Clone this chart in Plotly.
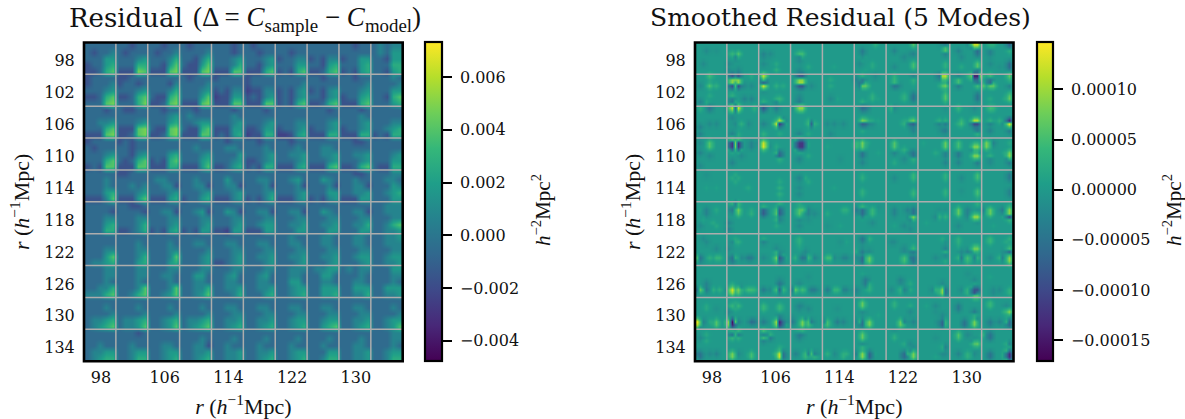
import numpy as np
import plotly.graph_objects as go

W, H = 1185, 419

# Block centres and tick labels, h^-1 Mpc
r_blocks = [98, 102, 106, 110, 114, 118, 122, 126, 130, 134]
x_tick_vals = [98, 106, 114, 122, 130]
y_tick_vals = r_blocks

# Residual panel: 5x5 estimated level cells in each of the 10x10 blocks
res_levels = [-0.0032, -0.0025, -0.0017, -0.0006, 0.0007, 0.0017, 0.0027, 0.0040, 0.0048, 0.0054]
res_blocks = [
 ["33333/32334/33355/23356/22367","33233/32333/33345/33366/22287","33233/32334/33346/33257/22278","32333/33334/33246/32257/22278","33323/33323/33345/33346/22277","32333/33233/33345/33245/22267","33333/33233/23344/33355/23267","33333/33333/23244/33256/22367","33233/33333/23355/33356/23256","34344/34355/33255/33366/33256"],
 ["23333/23334/33345/22367/33378","22333/23323/33345/22367/33368","33333/33324/33346/32267/22378","32333/33334/33345/33357/22278","23333/33333/23244/12255/22277","23333/23333/12244/23245/22277","33333/33334/23245/23245/23267","33233/33333/23245/33245/22367","33233/33334/33345/23356/22267","33343/33334/33355/33267/33356"],
 ["33323/33333/33445/33367/22278","32233/33333/33345/22278/22378","33233/33345/33356/32278/22378","33233/34333/33455/32267/22277","33323/33343/33345/22255/23256","33323/33333/33345/22355/12266","33333/33333/33344/23345/11256","33323/33333/33345/23345/22266","33323/33343/33345/23345/22266","33333/33333/33344/33456/23266"],
 ["23333/32333/33345/33367/23277","23233/33233/33245/32367/22277","33333/33333/33356/23267/22266","33333/33433/33345/33356/22257","33233/33443/33335/33345/22356","33233/33343/33345/22345/23266","33233/33343/33445/33345/22256","33333/33443/33445/33345/22267","33223/33333/33445/33345/22367","33333/33333/33345/33355/32266"],
 ["33333/33343/33343/33356/22247","22333/33333/33434/33345/22257","33333/34433/33442/33345/22256","33333/33433/33442/33345/23356","33333/33533/33442/33345/22245","33333/33443/33342/33345/23246","33333/33453/33342/33345/22245","33333/33543/33342/33355/23245","33223/33433/33442/33445/22255","33344/33443/33354/33456/33355"],
 ["33333/33332/33344/33356/33366","33223/33332/33344/33346/22346","33333/33442/33344/33345/23256","33333/33452/33344/33345/23255","33333/33542/33344/33345/22155","33333/33442/33344/33455/22255","33333/33442/33344/33445/33355","33333/33543/33344/33445/33355","33333/33442/33344/33446/33355","33444/33444/33344/33467/33445"],
 ["33333/33333/33344/33357/34456","33333/33343/33344/33346/33356","33333/33343/33344/33347/33356","33333/33443/33334/33345/33345","33333/33443/33344/33345/22345","33333/33443/33344/33445/33345","33433/33443/33344/33445/33345","33443/33443/33344/33445/33345","33443/33443/33344/33455/33345","33445/33444/33344/33455/33445"],
 ["33344/33344/33343/33446/44467","33344/33344/33343/33347/33467","33344/33443/33343/33347/33457","33344/33553/33443/33446/33457","33344/33453/33443/33445/33346","33344/33453/33443/33445/33356","33444/33443/33553/33455/33456","34455/33553/33443/33555/33556","34344/33343/33443/33555/33446","33355/33344/33343/33555/33445"],
 ["33333/33343/33334/34456/34567","33333/33343/33334/34456/34457","33333/33343/33334/33456/33457","33333/33343/33334/34456/34567","33333/33443/33344/33445/33456","33333/33443/33344/33445/33456","33333/33443/33344/33455/33456","33333/33443/33344/33455/33567","33333/33443/33344/33445/33456","33333/33343/33334/33455/33457"],
 ["33333/33333/33433/34455/34566","33323/33333/33433/33455/33466","33333/33333/33443/33455/33456","33333/33343/33442/33445/33456","33333/33343/33433/33445/33445","33333/33343/33433/33445/33456","33333/33343/33433/33455/33456","33333/33343/33433/33355/33466","33333/33343/33443/33445/33445","33344/33344/33343/33455/33466"],
]

# Smoothed panel: notable cells (row, col, value in 1e-5) in a 10x10 grid per block; the rest is near zero
smooth_cells = {
 (0,0):[(2,3,-2),(2,6,-1),(6,2,-2)],
 (0,1):[(3,1,4),(3,3,6),(4,2,-2),(6,0,-2),(8,0,-2),(8,3,-2)],
 (0,2):[(3,1,-3),(3,3,-2),(4,1,-2),(6,5,2),(8,5,3),(6,1,-2)],
 (0,3):[(3,2,5),(3,3,5),(4,2,-2),(7,5,2),(5,2,-2),(8,2,-2)],
 (0,4):[(7,3,1)],
 (0,5):[(0,6,3),(2,2,-4),(3,2,-3),(4,2,1),(6,5,2),(7,5,2),(6,1,-2),(8,3,1)],
 (0,6):[(0,8,6),(6,8,5),(7,8,5),(3,8,-3),(2,2,-3),(7,2,-2),(3,7,-2),(4,5,-2)],
 (0,7):[(0,7,-2),(0,8,-3),(1,8,5),(2,8,6),(3,8,-3),(6,8,3),(7,8,3),(9,8,2)],
 (0,8):[(0,7,12),(0,8,12),(0,6,-4),(1,8,-2),(2,8,-6),(3,8,-5),(6,8,6),(7,8,6),(8,8,-3),(2,2,-3),(4,3,-2),(7,3,2)],
 (0,9):[(0,8,-7),(0,2,3),(0,3,3),(2,2,-3),(2,8,3),(3,2,-3),(6,8,-6),(7,8,-6),(8,8,-3),(6,2,-2),(7,5,-1)],
 (1,0):[(0,4,5),(0,5,2),(3,4,6),(3,6,3),(3,1,-2),(8,1,-3),(8,3,2),(6,4,2)],
 (1,1):[(0,1,-10),(0,3,-10),(1,1,9),(1,2,8),(1,3,9),(2,1,9),(2,2,1),(2,3,9),(3,1,-10),(3,2,5),(3,3,-10),(0,2,2),(0,7,2),(3,7,-2),(6,1,3),(7,1,-3),(7,5,-3),(7,7,-3),(3,5,-2),(8,1,-4),(8,2,2)],
 (1,2):[(4,1,-3),(1,1,-4),(2,1,-8),(0,1,12),(3,1,13),(3,5,3),(3,7,2),(7,5,3),(7,6,4),(8,1,3),(8,5,-2)],
 (1,3):[(0,2,-9),(0,3,-9),(1,2,9),(2,2,10),(1,3,9),(2,3,10),(3,2,-9),(3,3,-9),(3,6,-2),(7,2,-3),(8,2,-4),(6,2,-2)],
 (1,4):[(1,2,2),(3,2,2),(7,2,-2),(7,4,1)],
 (1,5):[(0,2,3),(1,2,-4),(1,0,-3),(2,1,-4),(2,2,-3),(3,2,7),(3,3,7),(3,1,-3),(0,6,-2),(8,2,3),(6,5,3),(7,5,3),(7,7,1)],
 (1,6):[(0,2,3),(1,2,4),(2,2,4),(3,2,-5),(3,3,-4),(1,8,3),(2,8,2),(0,8,-3),(6,5,3),(7,5,3),(6,8,-5),(7,8,-5)],
 (1,7):[(0,7,11),(0,8,12),(0,6,-5),(1,8,-3),(2,8,-3),(3,8,8),(3,7,6),(5,8,3),(6,8,6),(7,8,6),(8,8,3),(0,9,-2)],
 (1,8):[(0,7,-15),(0,8,-15),(0,6,7),(0,9,8),(1,8,3),(2,8,-4),(3,8,5),(3,2,-4),(1,2,5),(2,2,5),(6,8,-5),(7,8,-5),(8,8,-2),(0,2,-3)],
 (1,9):[(0,2,5),(1,2,-5),(2,2,-6),(3,0,6),(3,2,7),(3,3,7),(0,8,7),(0,9,-1),(1,8,3),(6,8,6),(7,8,7),(7,7,3),(3,8,-3),(7,2,2)],
 (2,0):[(0,4,-5),(0,1,3),(6,1,-3),(5,4,-2),(5,6,-2),(8,1,-3)],
 (2,1):[(0,1,12),(0,2,-6),(0,3,13),(0,0,-3),(0,8,3),(5,2,-2),(5,4,3),(5,6,-2),(8,1,-3),(8,3,2),(3,1,-2)],
 (2,2):[(0,1,-9),(0,5,-4),(4,5,4),(4,6,12),(5,5,12),(5,6,-13),(5,7,3),(4,7,-4),(8,1,3),(8,6,2),(5,1,-3)],
 (2,3):[(0,2,10),(0,3,10),(0,1,-3),(5,5,4),(5,6,-7),(5,7,3),(4,5,3),(8,2,-3),(8,5,2)],
 (2,4):[(5,1,-2),(5,3,-2),(5,6,-2),(8,2,-2)],
 (2,5):[(0,2,-6),(0,3,-5),(4,2,9),(4,3,7),(5,2,-8),(5,3,-7),(4,5,2),(5,5,-2),(7,2,2),(4,7,1)],
 (2,6):[(0,1,3),(0,2,-2),(4,8,8),(5,8,-8),(4,7,6),(5,7,-6),(5,5,3),(4,5,2),(7,8,-3),(5,6,-2)],
 (2,7):[(4,8,3),(5,8,-4),(4,6,3),(5,6,-3),(7,7,-3),(7,8,-4),(0,8,-1)],
 (2,8):[(4,7,12),(4,8,12),(5,7,-11),(5,8,-11),(0,2,4),(0,7,-2),(4,3,4),(5,3,5),(5,2,3),(7,8,-4),(8,8,3)],
 (2,9):[(0,2,5),(0,3,4),(4,8,-14),(4,9,-5),(5,8,14),(5,9,4),(5,7,-3),(4,2,3),(5,2,-3),(7,2,-3),(7,8,-4),(4,5,3)],
 (3,0):[(0,4,2),(1,4,6),(2,4,6),(1,1,-2),(4,1,-3),(5,4,-2),(8,1,-2)],
 (3,1):[(0,1,5),(0,3,5),(1,1,-12),(1,2,8),(1,3,-12),(2,1,-12),(2,2,8),(2,3,-12),(3,1,4),(3,3,4),(1,7,-3),(2,7,-3),(7,1,-3),(5,4,-2)],
 (3,2):[(1,1,12),(2,1,13),(0,1,5),(3,1,3),(1,0,-3),(2,2,-3),(4,5,3),(4,6,-6),(5,6,-7),(6,6,3),(2,5,2)],
 (3,3):[(1,2,-12),(2,2,-12),(1,3,-12),(2,3,-12),(0,2,4),(3,2,4),(0,3,3),(3,3,3),(1,1,3),(2,1,3),(1,4,3),(2,4,3),(6,2,-3),(5,5,2)],
 (3,4):[(2,1,1),(6,5,-1)],
 (3,5):[(1,2,8),(2,2,7),(1,0,4),(2,0,4),(1,3,3),(4,2,-5),(5,2,-5),(7,2,-3),(4,7,1)],
 (3,6):[(1,2,6),(2,2,6),(4,2,-3),(4,7,-3),(5,8,-5),(4,8,-5),(6,8,3),(7,2,2),(6,5,-2),(3,5,3)],
 (3,7):[(1,8,7),(2,8,7),(0,8,-2),(4,8,-3),(5,8,-3),(7,8,-3),(1,1,1),(4,5,2)],
 (3,8):[(1,2,5),(2,2,5),(3,2,2),(4,2,-4),(5,2,-4),(2,7,9),(2,8,9),(5,7,9),(5,8,9),(4,8,-3),(7,8,-4),(7,2,-3),(3,7,-3)],
 (3,9):[(1,1,8),(2,1,8),(1,3,-3),(4,8,8),(5,8,9),(4,9,3),(5,9,3),(4,7,3),(7,8,-4),(6,8,-3),(1,8,2),(6,2,-2),(7,2,-2),(5,2,3)],
 (4,0):[(1,3,-1),(5,3,1),(5,6,1)],
 (4,1):[(1,2,2),(2,1,2),(2,3,2),(3,2,2),(5,6,2)],
 (4,2):[(3,6,2),(5,6,3),(7,6,3)],
 (4,3):[(2,2,-3),(2,4,2),(3,5,2),(5,2,-2),(7,2,-2)],
 (4,4):[(5,3,1)],
 (4,5):[(1,2,2),(2,2,3),(6,2,3),(7,2,3)],
 (4,6):[(1,8,4),(2,8,4),(6,8,3),(7,8,4),(2,2,-2)],
 (4,7):[(1,8,3),(2,8,3),(6,8,3),(7,8,3)],
 (4,8):[(1,8,5),(2,8,5),(6,8,5),(7,8,5),(2,3,-2),(6,3,-1)],
 (4,9):[(1,8,-4),(2,8,-4),(6,8,-3),(7,8,-3)],
 (5,0):[(2,3,-3),(2,6,2),(2,1,1),(3,3,-3),(7,1,-2),(6,5,2),(7,6,2),(5,2,1)],
 (5,1):[(0,1,3),(0,2,-3),(0,3,4),(2,1,-4),(2,3,8),(3,3,6),(2,2,3),(6,0,-3),(8,0,-3),(2,7,2),(3,7,3)],
 (5,2):[(2,1,-7),(3,1,-8),(1,1,3),(2,5,5),(3,5,6),(2,6,-7),(3,6,-8),(5,5,3),(5,6,-3),(7,5,2),(0,6,3)],
 (5,3):[(2,2,6),(3,2,6),(2,3,6),(2,5,-3),(3,5,-3),(0,2,2),(7,2,-2),(5,2,-2),(5,5,-1),(3,7,-2),(2,4,2)],
 (5,4):[(2,6,3),(2,7,3),(7,1,-1),(3,1,2),(7,5,1)],
 (5,5):[(1,2,4),(2,2,-6),(3,2,-6),(4,2,2),(2,0,-4),(2,5,4),(3,5,4),(1,7,-1),(6,5,-2)],
 (5,6):[(2,2,-3),(3,2,-3),(4,2,-1),(2,6,-3),(2,8,-5),(3,8,-5),(4,7,-3),(4,8,9),(5,7,-2),(7,5,-2),(7,2,1),(8,7,-2)],
 (5,7):[(2,6,-1),(4,5,-2),(4,6,3),(4,8,3),(2,8,-1),(6,2,1)],
 (5,8):[(2,2,7),(3,2,7),(1,2,2),(2,5,-3),(3,5,-3),(4,7,10),(4,8,10),(5,8,-3),(4,5,-2),(3,8,-3),(0,8,3),(7,2,-2)],
 (5,9):[(2,2,7),(3,2,7),(2,0,-3),(2,8,9),(3,8,9),(4,8,-10),(4,7,3),(1,8,4),(5,8,4),(2,6,-4),(7,3,1)],
 (6,0):[(7,0,5),(7,1,-5),(8,1,-3),(7,6,4),(7,7,4),(1,2,-2),(2,3,-2),(4,6,-2),(7,4,3)],
 (6,1):[(1,2,2),(2,1,-2),(2,2,2),(2,3,3),(7,1,-5),(7,2,3),(8,1,-4),(7,6,-4),(7,7,-4),(4,0,-2),(7,4,-2)],
 (6,2):[(2,1,-3),(7,5,8),(7,6,-9),(8,5,5),(8,6,-6),(5,5,3),(5,6,-2),(4,5,-2),(7,7,3),(1,1,2),(7,1,-2)],
 (6,3):[(1,2,3),(2,2,3),(3,2,2),(7,1,3),(7,3,-5),(7,4,-4),(7,5,4),(7,7,-3),(5,4,-2),(4,2,1)],
 (6,4):[(7,1,5),(7,2,5),(7,3,-2),(7,6,-3),(7,7,-3),(2,5,-1),(2,7,1)],
 (6,5):[(1,2,-5),(2,2,-3),(5,2,-4),(5,4,-2),(7,2,-6),(8,2,-6),(7,4,7),(8,4,7),(7,0,-2),(5,0,2),(1,4,3)],
 (6,6):[(2,1,-2),(2,2,-2),(4,5,-2),(5,7,-3),(5,8,-4),(7,5,5),(8,5,5),(7,7,-4),(7,8,-5),(8,8,-5),(4,8,4),(5,5,-2)],
 (6,7):[(1,7,2),(2,8,-1),(4,8,-3),(5,8,3),(6,8,-2),(7,5,-2),(8,8,2)],
 (6,8):[(1,2,3),(2,2,3),(3,2,2),(4,7,8),(4,8,8),(5,3,-2),(5,5,-3),(7,3,-4),(7,5,5),(8,5,4),(7,2,3),(7,7,-3),(7,8,3)],
 (6,9):[(1,2,4),(2,2,4),(1,8,3),(5,8,-7),(4,8,5),(5,7,-3),(6,8,4),(7,8,9),(8,8,9),(7,6,-3),(7,5,3),(7,2,-2),(2,7,2)],
 (7,0):[(7,1,7),(7,0,-4),(5,3,-3),(6,3,-3),(7,3,-4),(7,5,3),(7,7,3),(8,1,-2)],
 (7,1):[(7,1,13),(8,1,10),(6,1,6),(7,0,-4),(7,2,-3),(7,3,8),(8,3,6),(7,6,5),(7,7,5),(7,8,4),(6,4,-1)],
 (7,2):[(5,6,-5),(6,6,-3),(7,5,5),(7,6,-7),(7,7,4),(7,1,-4),(7,3,-2),(8,6,-3),(4,6,-2)],
 (7,3):[(7,0,-4),(7,1,7),(7,2,-2),(7,3,5),(7,4,3),(7,6,-4),(7,7,-4),(5,2,-2),(3,5,-1)],
 (7,4):[(7,1,-4),(7,3,4),(7,4,4),(7,6,-3),(7,7,-3)],
 (7,5):[(4,3,-4),(5,3,-4),(5,4,2),(6,4,3),(7,4,3),(7,0,-3),(8,0,-2),(2,2,1)],
 (7,6):[(4,4,-3),(5,4,-2),(7,1,-2),(7,5,-3),(7,4,3),(8,4,2),(5,7,2),(7,7,2)],
 (7,7):[(7,7,9),(8,7,9),(7,8,-5),(8,8,-5),(7,5,3),(7,4,-2),(5,7,-2),(8,5,-1)],
 (7,8):[(7,7,-9),(8,7,-9),(6,7,3),(9,7,6),(9,8,6),(7,8,-9),(7,5,3),(8,5,3),(4,7,-2),(7,3,-2),(2,5,-1)],
 (7,9):[(7,8,3),(8,8,3),(7,3,-2),(8,3,-2),(7,5,-2),(3,2,1)],
 (8,0):[(7,0,14),(8,0,11),(7,1,-4),(8,1,-4),(7,2,-3),(7,6,6),(8,6,6),(7,4,2),(2,3,2),(3,3,2),(3,6,-1)],
 (8,1):[(7,1,-16),(8,1,-14),(7,0,9),(8,0,8),(7,2,7),(7,3,-3),(7,7,-6),(7,8,-5),(2,3,4),(2,1,4),(4,0,-2),(1,2,2),(3,2,2)],
 (8,2):[(2,1,4),(3,1,4),(7,1,-4),(2,6,4),(3,6,4),(7,5,10),(7,7,-4),(7,6,-14),(8,6,-12),(8,5,8),(8,7,3),(5,6,-2),(2,0,1)],
 (8,3):[(2,2,-3),(3,2,-2),(2,3,-2),(6,0,-2),(7,0,-4),(7,3,8),(8,3,8),(7,4,-3),(7,5,5),(8,5,5),(7,6,-4),(3,5,-2)],
 (8,4):[(7,1,5),(8,1,5),(7,4,-4),(7,6,-3),(7,0,-2),(3,4,-1)],
 (8,5):[(2,2,7),(1,2,7),(3,2,2),(4,2,-2),(7,4,8),(8,4,8),(7,2,-5),(8,2,-5),(7,1,3),(7,0,-2),(5,7,1)],
 (8,6):[(2,2,3),(1,2,3),(4,7,-2),(7,4,7),(8,4,7),(7,5,-3),(7,8,-3),(2,7,2)],
 (8,7):[(2,2,1),(2,5,-2),(7,6,-2),(7,7,-7),(8,7,-7),(7,8,3),(8,8,3),(5,7,-2),(4,5,-1)],
 (8,8):[(2,2,-4),(3,2,-4),(4,7,-4),(7,4,-5),(8,4,-5),(7,7,8),(8,7,8),(7,6,3),(7,8,-3),(5,7,2)],
 (8,9):[(1,2,4),(2,2,4),(2,7,-2),(4,8,9),(4,7,5),(5,8,-3),(7,2,-4),(7,5,-3),(8,2,-3),(7,8,-6),(8,8,-6),(7,7,3)],
 (9,0):[(7,1,-5),(8,1,-5),(7,0,-4),(7,4,-2),(7,6,-3),(2,1,-2),(1,3,2),(3,3,2)],
 (9,1):[(0,1,3),(0,3,4),(1,1,-5),(1,2,3),(1,3,-4),(2,1,4),(7,1,8),(8,1,8),(7,3,-2),(7,7,5),(8,7,5),(2,3,3)],
 (9,2):[(0,1,5),(1,1,-3),(2,1,5),(3,1,-3),(2,3,-4),(1,3,3),(7,5,5),(7,6,12),(8,6,12),(7,7,-5),(8,7,-5),(6,6,4),(5,6,2)],
 (9,3):[(0,2,2),(0,3,3),(1,2,-4),(1,3,-3),(2,2,-3),(7,4,4),(8,4,4),(7,6,5),(7,5,-3),(7,7,-3),(8,7,3),(7,1,-3)],
 (9,4):[(7,1,3),(7,3,-2),(7,6,3),(8,6,3),(7,7,3)],
 (9,5):[(1,2,7),(2,2,7),(0,2,-2),(4,2,-2),(5,2,3),(7,2,9),(8,2,9),(7,0,-3),(7,4,-7),(8,4,-7),(7,5,2),(7,1,3)],
 (9,6):[(1,2,2),(2,2,3),(0,2,-1),(4,7,-2),(5,8,-2),(7,5,-6),(8,5,-6),(7,8,8),(8,8,8),(7,7,-3),(7,6,3),(4,5,2)],
 (9,7):[(2,5,-1),(5,7,2),(5,8,-3),(7,7,-2),(7,8,-2),(8,5,1)],
 (9,8):[(1,2,6),(2,2,5),(1,5,-2),(4,7,6),(4,8,7),(5,8,-2),(7,5,3),(8,5,3),(7,2,-3),(3,7,-2),(7,7,-2)],
 (9,9):[(1,2,-5),(2,2,-5),(1,0,3),(4,8,-3),(4,7,2),(7,8,-13),(8,8,-13),(6,8,4),(9,8,4),(7,7,4),(8,7,4),(7,9,4),(8,9,4),(7,2,-5),(8,2,-5),(6,7,3),(9,7,3)],
}

res_range = [-0.00477, 0.00732]
smooth_range = [-0.000171, 0.000147]
res_ticks = [-0.004, -0.002, 0.0, 0.002, 0.004, 0.006]
res_tick_text = ["\u22120.004", "\u22120.002", "0.000", "0.002", "0.004", "0.006"]
smooth_ticks = [-0.00015, -0.0001, -0.00005, 0.0, 0.00005, 0.0001]
smooth_tick_text = ["\u22120.00015", "\u22120.00010", "\u22120.00005", "0.00000", "0.00005", "0.00010"]

# Expand stored levels / cells into the two matrices
z_res = np.zeros((50, 50))
for bi, row in enumerate(res_blocks):
    for bj, block in enumerate(row):
        for i, line in enumerate(block.split("/")):
            for j, ch in enumerate(line):
                z_res[bi * 5 + i, bj * 5 + j] = res_levels[int(ch)]

# Each read cell also tints its immediate neighbours, the width seen in the reference's blurred image
z_smooth = np.zeros((100, 100))
for (bi, bj), cells in smooth_cells.items():
    for i, j, v in cells:
        R, C = bi * 10 + i, bj * 10 + j
        for di in (-1, 0, 1):
            for dj in (-1, 0, 1):
                a, b = R + di, C + dj
                if 0 <= a < 100 and 0 <= b < 100:
                    w = {0: 1.0, 1: 0.38, 2: 0.12}[abs(di) + abs(dj)] * v * 1e-5
                    if abs(w) > abs(z_smooth[a, b]):
                        z_smooth[a, b] = w

r_min = r_blocks[0] - 2
r_step = (r_blocks[1] - r_blocks[0])
cent = lambda n: r_min + (np.arange(n) + 0.5) * r_step * 10 / n
edges = [r_min + r_step * k for k in range(1, 10)]
r_max = r_min + r_step * 10

# Layout in pixels
AX_T, AX_B = 42.5, 361.2
panels = [dict(l=84.0, r=402.7, cb_l=425, cb_w=17, cb_title=541),
          dict(l=695.0, r=1013.5, cb_l=1037, cb_w=16, cb_title=1172)]
SERIF = "DejaVu Serif"
MATH = "Liberation Serif"
GRID = "#adadad"
fx, fy = (lambda p: p / W), (lambda p: 1 - p / H)
# Tick labels sit a touch off the block centres in the reference
X_LABEL_SHIFT, Y_LABEL_SHIFT = 0.125, 0.3

fig = go.Figure()
datasets = [(z_res, 50, res_range, res_ticks, res_tick_text),
            (z_smooth, 100, smooth_range, smooth_ticks, smooth_tick_text)]
layout_axes = {}
shapes, annots = [], []
for k, (p, (z, n, rng, tv, tt)) in enumerate(zip(panels, datasets)):
    xa, ya = ("x", "y") if k == 0 else ("x2", "y2")
    fig.add_trace(go.Heatmap(
        z=z, x=cent(n), y=cent(n), xaxis=xa, yaxis=ya, zmin=rng[0], zmax=rng[1],
        colorscale="Viridis", zsmooth="best", hoverinfo="skip",
        colorbar=dict(
            x=fx(p["cb_l"]), xanchor="left", xpad=0, ypad=0, y=fy(AX_B), yanchor="bottom",
            len=(AX_B - AX_T) / H, lenmode="fraction", thickness=p["cb_w"], thicknessmode="pixels",
            outlinecolor="black", outlinewidth=2.2, borderwidth=0,
            tickmode="array", tickvals=tv, ticktext=["\u00a0" + t for t in tt], ticks="outside", ticklen=9,
            tickwidth=1.6, tickcolor="black", tickfont=dict(family=SERIF, size=16, color="#111"),
        )))
    common = dict(range=[r_min, r_max], showgrid=False, zeroline=False, showline=False, ticks="outside",
                  tickcolor="rgba(0,0,0,0)", tickfont=dict(family=SERIF, size=16, color="#111"),
                  tickmode="array")
    title_text = "<i>r</i> (<i>h</i><sup>\u22121</sup>Mpc)"
    layout_axes["xaxis" if k == 0 else "xaxis2"] = dict(
        common, domain=[fx(p["l"]), fx(p["r"])], anchor=ya,
        tickvals=[v + X_LABEL_SHIFT for v in x_tick_vals], ticklen=2,
        ticktext=[str(v) for v in x_tick_vals],
        title=dict(text=title_text, font=dict(family=MATH, size=22, color="#111"), standoff=15))
    layout_axes["yaxis" if k == 0 else "yaxis2"] = dict(
        common, domain=[fy(AX_B), fy(AX_T)], anchor=xa,
        tickvals=[v + Y_LABEL_SHIFT for v in y_tick_vals], ticklen=5,
        ticktext=[str(v) for v in y_tick_vals], range=[r_max, r_min],
        title=dict(text=title_text, font=dict(family=MATH, size=22, color="#111"), standoff=8))
    for e in edges:
        shapes.append(dict(type="line", xref=xa, yref=ya, x0=e, x1=e, y0=r_min, y1=r_max,
                           line=dict(color=GRID, width=1.5), layer="above"))
        shapes.append(dict(type="line", xref=xa, yref=ya, x0=r_min, x1=r_max, y0=e, y1=e,
                           line=dict(color=GRID, width=1.5), layer="above"))
    # axes frame, centred on the image edges
    shapes.append(dict(type="rect", xref=xa + " domain", yref=ya + " domain", x0=0, x1=1, y0=0, y1=1,
                       line=dict(color="black", width=2.6), fillcolor="rgba(0,0,0,0)", layer="above"))
    # light sliver at the foot of each colour bar
    shapes.append(dict(type="line", xref="paper", yref="paper",
                       x0=fx(p["cb_l"] + 1.5), x1=fx(p["cb_l"] + p["cb_w"] - 1.5),
                       y0=fy(358.5), y1=fy(358.5), line=dict(color="white", width=1.4)))
    annots.append(dict(xref="paper", yref="paper", x=fx(p["cb_title"]), y=fy(210), showarrow=False,
                       text="<i>h</i><sup>\u22122</sup>Mpc<sup>2</sup>", textangle=-90,
                       font=dict(family=MATH, size=21, color="#111"), xanchor="center", yanchor="middle"))

annots.append(dict(xref="paper", yref="paper", x=fx(67), y=fy(17.5), showarrow=False, text="Residual",
                   font=dict(family=SERIF, size=26, color="#111"), xanchor="left", yanchor="middle"))
annots.append(dict(xref="paper", yref="paper", x=fx(191), y=fy(19), showarrow=False,
                   text="(\u0394 = <i>C</i><sub>sample</sub> \u2212 <i>C</i><sub>model</sub>)",
                   font=dict(family=MATH, size=27, color="#111"), xanchor="left", yanchor="middle"))
annots.append(dict(xref="paper", yref="paper", x=fx(840.5), y=fy(17.5), showarrow=False,
                   text="Smoothed Residual (5 Modes)",
                   font=dict(family=SERIF, size=25, color="#111"), xanchor="center", yanchor="middle"))

fig.update_layout(width=W, height=H, autosize=False, paper_bgcolor="white", plot_bgcolor="white",
                  margin=dict(l=0, r=0, t=0, b=0, autoexpand=False), showlegend=False,
                  shapes=shapes, annotations=annots, **layout_axes)
fig.write_html("out.html", config={"displayModeBar": False},
               post_script="document.body.style.margin='0';document.documentElement.style.overflow='hidden';")
